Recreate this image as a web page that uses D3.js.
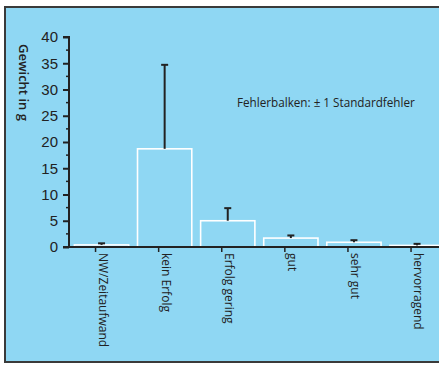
<!DOCTYPE html>
<html><head><meta charset="utf-8">
<script src="https://cdn.jsdelivr.net/npm/d3@7"></script>
<style>html,body{margin:0;padding:0;background:#fff;overflow:hidden;}svg{display:block;}</style>
</head><body>
<script>
const categories = ["NW/Zeitaufwand","kein Erfolg","Erfolg gering","gut","sehr gut","hervorragend"];
const means = [0.4, 18.7, 5.0, 1.7, 0.9, 0.3];
const stdErrors = [0.3, 16.0, 2.4, 0.5, 0.4, 0.3];
const yTicks = [0,5,10,15,20,25,30,35,40];
const yLabel = "Gewicht in g";
const note = "Fehlerbalken: \u00b1 1 Standardfehler";

const W = 439, H = 365;
const svg = d3.select("body").append("svg").attr("width", W).attr("height", H);

// panel
svg.append("rect").attr("x", 5).attr("y", 7).attr("width", W).attr("height", 355)
  .attr("fill", "#8fd7f3");
svg.append("path").attr("d", `M${W},7H5V362H${W}`).attr("fill", "none")
  .attr("stroke", "#3a3a3a").attr("stroke-width", 2);

const y = d3.scaleLinear().domain([0, 40]).range([247, 37]);
const x = d3.scaleBand().domain(categories).range([70, 448.6]).paddingInner(0.14).paddingOuter(0.07);
const axisX = 69;
const dark = "#222";

// bars
svg.append("g").selectAll("rect").data(categories).join("rect")
  .attr("x", d => x(d)).attr("width", x.bandwidth())
  .attr("y", (d, i) => y(means[i])).attr("height", (d, i) => y(0) - y(means[i]))
  .attr("fill", "none").attr("stroke", "#fff").attr("stroke-width", 1.6);

// error bars
const eb = svg.append("g").attr("stroke", dark).attr("stroke-width", 2);
categories.forEach((c, i) => {
  const cx = x(c) + x.bandwidth() / 2;
  eb.append("line").attr("x1", cx).attr("x2", cx).attr("y1", y(means[i])).attr("y2", y(means[i] + stdErrors[i]));
  eb.append("line").attr("x1", cx - 3.5).attr("x2", cx + 3.5).attr("y1", y(means[i] + stdErrors[i])).attr("y2", y(means[i] + stdErrors[i]));
});

// y axis
const yAxis = d3.axisLeft(y).tickValues(yTicks).tickSize(6).tickPadding(5).tickFormat(d3.format("d"));
const gy = svg.append("g").attr("transform", `translate(${axisX},0)`).call(yAxis);
gy.select(".domain").attr("stroke", dark).attr("stroke-width", 2).attr("d", `M-6,${y(40)}H0V${y(0)}`);
gy.selectAll(".tick line").attr("stroke", dark).attr("stroke-width", 2);
gy.selectAll(".tick text").attr("fill", dark).style("font-family", "'Liberation Sans', Arial, sans-serif").style("font-size", "15px");
// minor ticks
const minor = d3.range(2.5, 40, 5);
svg.append("g").selectAll("line").data(minor).join("line")
  .attr("x1", axisX - 3).attr("x2", axisX).attr("y1", d => y(d)).attr("y2", d => y(d))
  .attr("stroke", dark).attr("stroke-width", 1.5);

// x axis line
svg.append("line").attr("x1", 63).attr("x2", W).attr("y1", y(0)).attr("y2", y(0))
  .attr("stroke", dark).attr("stroke-width", 2.2);

// x ticks and labels
const gx = svg.append("g");
categories.forEach((c) => {
  const cx = x(c) + x.bandwidth() / 2 - 6;
  gx.append("line").attr("x1", cx).attr("x2", cx).attr("y1", y(0)).attr("y2", y(0) + 5)
    .attr("stroke", dark).attr("stroke-width", 1.5);
  gx.append("text").attr("transform", `translate(${cx - 1},${y(0) + 6}) rotate(90)`)
    .attr("fill", dark).style("font-family", "'Open Sans', sans-serif").style("font-size", "12px")
    .style("font-weight", "500")
    .attr("dominant-baseline", "text-after-edge")
    .text(c);
});

// y label
svg.append("text").attr("transform", `translate(15,44) rotate(90)`)
  .attr("fill", dark).style("font-family", "'Open Sans', sans-serif").style("font-size", "13px").style("font-weight", "600")
  .attr("dominant-baseline", "text-after-edge")
  .text(yLabel);

// note
svg.append("text").attr("x", 237).attr("y", 107)
  .attr("fill", dark).style("font-family", "'Open Sans', sans-serif").style("font-size", "11.7px")
  .style("font-weight", "500")
  .text(note);
</script>
</body></html>
